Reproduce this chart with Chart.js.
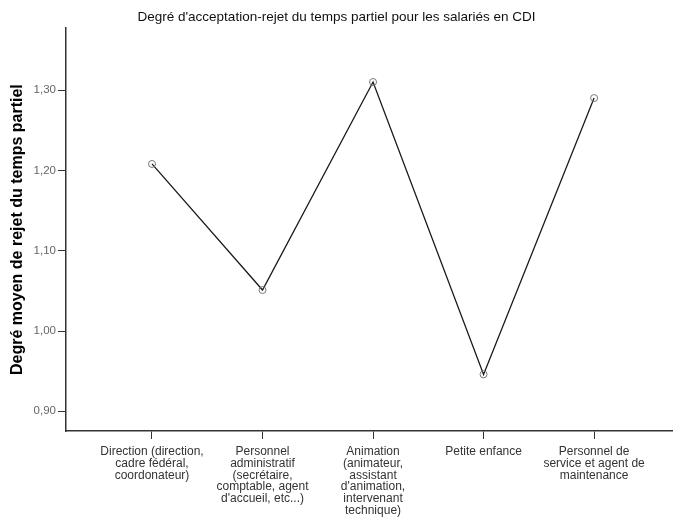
<!DOCTYPE html>
<html>
<head>
<meta charset="utf-8">
<script src="https://cdn.jsdelivr.net/npm/chart.js@4.4.0/dist/chart.umd.min.js"></script>
<style>
  html, body { margin: 0; padding: 0; background: #fff; }
  #chart { display: block; }
</style>
</head>
<body>
<canvas id="chart" width="673" height="517"></canvas>
<script>
  // categories (multi-line labels as drawn under the axis)
  var categories = [
    ['Direction (direction,', 'cadre fédéral,', 'coordonateur)'],
    ['Personnel', 'administratif', '(secrétaire,', 'comptable, agent', "d'accueil, etc...)"],
    ['Animation', '(animateur,', 'assistant', "d'animation,", 'intervenant', 'technique)'],
    ['Petite enfance'],
    ['Personnel de', 'service et agent de', 'maintenance']
  ];
  var rejectValues = [1.208, 1.051, 1.310, 0.946, 1.290];
  var yTickValues = [0.90, 1.00, 1.10, 1.20, 1.30];

  var points = rejectValues.map(function(v, i) { return {x: i, y: v}; });
  var axisColor = '#333';
  var fontFamily = 'Liberation Sans, Arial, sans-serif';

  var ctx = document.getElementById('chart').getContext('2d');
  new Chart(ctx, {
    type: 'line',
    data: {
      datasets: [{
        data: points,
        borderColor: '#1a1a1a',
        borderWidth: 1.3,
        tension: 0,
        fill: false,
        pointRadius: 3.5,
        pointBorderWidth: 1,
        pointBorderColor: '#777',
        pointBackgroundColor: 'rgba(255,255,255,0)'
      }]
    },
    options: {
      responsive: false,
      animation: false,
      devicePixelRatio: 1,
      layout: { padding: 0, autoPadding: false },
      plugins: {
        legend: { display: false },
        tooltip: { enabled: false },
        title: {
          display: true,
          text: "Degré d'acceptation-rejet du temps partiel pour les salariés en CDI",
          color: '#111',
          font: { family: fontFamily, size: 13.5, weight: 'normal' },
          padding: { top: 9, bottom: 3 }
        }
      },
      scales: {
        x: {
          type: 'linear',
          min: -0.778,
          max: 4.714,
          afterBuildTicks: function(scale) {
            scale.ticks = categories.map(function(c, i) { return {value: i}; });
          },
          afterFit: function(scale) { scale.height = 86; },
          grid: {
            display: true,
            drawOnChartArea: false,
            drawTicks: true,
            tickLength: 8,
            color: axisColor,
            lineWidth: 1
          },
          border: { display: true, color: axisColor, width: 1.5 },
          ticks: {
            autoSkip: false,
            maxRotation: 0,
            minRotation: 0,
            padding: 7,
            color: '#333',
            font: { family: fontFamily, size: 12, lineHeight: 0.98 },
            callback: function(v) { return categories[v]; }
          }
        },
        y: {
          type: 'linear',
          min: 0.8755,
          max: 1.377,
          afterBuildTicks: function(scale) {
            scale.ticks = yTickValues.map(function(v) { return {value: v}; });
          },
          afterFit: function(scale) { scale.width = 66; },
          grid: {
            display: true,
            drawOnChartArea: false,
            drawTicks: true,
            tickLength: 8,
            color: axisColor,
            lineWidth: 1
          },
          border: { display: true, color: axisColor, width: 1.5 },
          ticks: {
            padding: 2,
            color: '#666',
            font: { family: fontFamily, size: 11.5 },
            callback: function(v) { return v.toFixed(2).replace('.', ','); }
          },
          title: {
            display: true,
            text: 'Degré moyen de rejet du temps partiel',
            color: '#000',
            font: { family: fontFamily, size: 16, weight: 'bold' },
            padding: { top: 8, bottom: 0 }
          }
        }
      }
    }
  });
</script>
</body>
</html>
